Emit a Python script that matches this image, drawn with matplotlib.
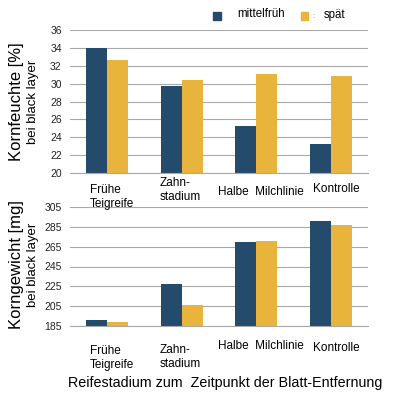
import matplotlib
matplotlib.use('Agg')
import matplotlib.pyplot as plt
import numpy as np

plt.rcParams['font.family'] = ['Liberation Sans', 'DejaVu Sans']

# Daten
kategorien = ['Frühe\nTeigreife', 'Zahn-\nstadium', 'Halbe  Milchlinie', 'Kontrolle']
feuchte_mittelfrueh = [34.0, 29.7, 25.3, 23.2]
feuchte_spaet = [32.6, 30.4, 31.1, 30.9]
gewicht_mittelfrueh = [191, 227, 270, 291]
gewicht_spaet = [189, 206, 271, 287]

c_dunkel = '#244b6b'
c_gold = '#e9b43c'

fig = plt.figure(figsize=(3.98, 4.0), dpi=100)
ax1 = fig.add_axes([0.176, 0.5675, 0.749, 0.3575])
ax2 = fig.add_axes([0.176, 0.185, 0.749, 0.2975])

x = np.arange(len(kategorien))
w = 0.28

def stil(ax, ylim, ticks):
    ax.set_xlim(-0.5, 3.5)
    ax.set_ylim(*ylim)
    ax.set_yticks(ticks)
    ax.set_xticks([])
    ax.grid(axis='y', color='#a8a8a8', lw=0.8)
    ax.set_axisbelow(True)
    for s in ['top', 'right', 'left']:
        ax.spines[s].set_visible(False)
    ax.spines['bottom'].set_color('#a8a8a8')
    ax.tick_params(axis='y', length=0, labelsize=7.5, pad=6, colors='#222222')

ax1.bar(x - w/2, feuchte_mittelfrueh, w, color=c_dunkel)
ax1.bar(x + w/2, feuchte_spaet, w, color=c_gold)
stil(ax1, (20, 36), np.arange(20, 37, 2))

ax2.bar(x - w/2, gewicht_mittelfrueh, w, color=c_dunkel)
ax2.bar(x + w/2, gewicht_spaet, w, color=c_gold)
stil(ax2, (185, 305), np.arange(185, 306, 20))

# Kategorienbeschriftung (versetzt wie im Original)
xpos = [90, 160, 218, 313]
ytop = [184, 177, 186, 183]
ybot = [345, 344, 340, 342]
for lab, xp, yt, yb in zip(kategorien, xpos, ytop, ybot):
    fig.text(xp/398, 1 - yt/400, lab, fontsize=8.5, ha='left', va='top', linespacing=1.2)
    fig.text(xp/398, 1 - yb/400, lab, fontsize=8.5, ha='left', va='top', linespacing=1.2)

fig.text(17/398, 1 - 102/400, 'Kornfeuchte [%]', rotation=90, fontsize=12, ha='center', va='center')
fig.text(33/398, 1 - 102/400, 'bei black layer', rotation=90, fontsize=9.5, ha='center', va='center')
fig.text(17/398, 1 - 265/400, 'Korngewicht [mg]', rotation=90, fontsize=12, ha='center', va='center')
fig.text(33/398, 1 - 265/400, 'bei black layer', rotation=90, fontsize=9.5, ha='center', va='center')

fig.text(225/398, 1 - 383/400, 'Reifestadium zum  Zeitpunkt der Blatt-Entfernung',
         fontsize=10.3, ha='center', va='center')

# Legende
fig.patches.append(plt.Rectangle((213/398, 1 - 20/400), 8/398, 8/400, color=c_dunkel, transform=fig.transFigure))
fig.text(237/398, 1 - 14/400, 'mittelfrüh', fontsize=8.3, ha='left', va='center')
fig.patches.append(plt.Rectangle((301/398, 1 - 20/400), 7/398, 8/400, color=c_gold, transform=fig.transFigure))
fig.text(312/398, 1 - 16/400, ':', fontsize=6, ha='left', va='center', color='#888888')
fig.text(324/398, 1 - 15/400, 'spät', fontsize=8.3, ha='left', va='center')

plt.savefig('out.png', dpi=100)
